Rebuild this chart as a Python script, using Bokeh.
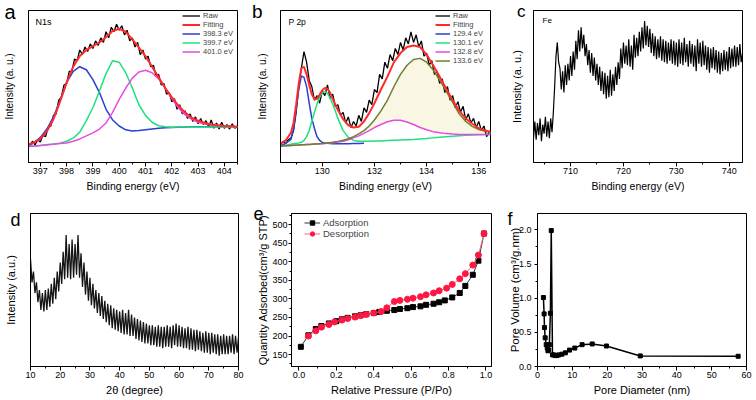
from bokeh.plotting import figure
from bokeh.layouts import row, column
from bokeh.models import (Range1d, FixedTicker, Label, Legend, LegendItem, LinearAxis,
                          PrintfTickFormatter, AllLabels)
from bokeh.embed import file_html
from bokeh.resources import INLINE

FONT = "Liberation Sans"

# ---------------- (a) N1s ----------------
a_raw_x = [396.6, 396.7, 396.8, 396.9, 397.0, 397.1, 397.2, 397.3, 397.4, 397.5,
           397.6, 397.7, 397.8, 397.9, 398.0, 398.1, 398.2, 398.3, 398.4, 398.5,
           398.6, 398.7, 398.8, 398.9, 399.0, 399.1, 399.2, 399.3, 399.4, 399.5,
           399.6, 399.7, 399.8, 399.9, 400.0, 400.1, 400.2, 400.3, 400.4, 400.5,
           400.6, 400.7, 400.8, 400.9, 401.0, 401.1, 401.2, 401.3, 401.4, 401.5,
           401.6, 401.7, 401.8, 401.9, 402.0, 402.1, 402.2, 402.3, 402.4, 402.5,
           402.6, 402.7, 402.8, 402.9, 403.0, 403.1, 403.2, 403.3, 403.4, 403.5,
           403.6, 403.7, 403.8, 403.9, 404.0, 404.1, 404.2, 404.3, 404.4, 404.5]
a_raw_y = [11, 14, 11.5, 15, 13.5, 18, 17, 23, 24, 31,
           32, 41, 43, 51, 52, 60, 60, 68, 67, 74,
           71, 76, 73, 78, 75, 80, 77, 82, 79, 86,
           82, 89, 86, 91, 87, 90, 84, 87, 80, 82,
           76, 79, 71, 74, 68, 70, 63, 64, 57, 58,
           51, 52, 45, 46, 40, 42, 35, 38, 32, 34,
           29, 32, 27, 30, 25.5, 29, 25, 27.5, 23.5, 28,
           22.5, 26, 22, 26.5, 22.5, 25, 22, 25.5, 22.5, 24]
a_fit_x = [396.55, 396.75, 397.0, 397.25, 397.5, 397.75, 398.0, 398.25, 398.5, 398.75,
           399.0, 399.25, 399.5, 399.75, 400.0, 400.25, 400.5, 400.75, 401.0, 401.25,
           401.5, 401.75, 402.0, 402.25, 402.5, 402.75, 403.0, 403.25, 403.5, 403.75,
           404.0, 404.25, 404.5]
a_fit = [12, 13, 15.5, 20.5, 28.5, 40, 52.5, 63, 70, 74,
         76.5, 79, 82.5, 86.5, 88, 86, 81, 75.5, 70, 63,
         56, 49, 43, 37.5, 33, 29.5, 27.5, 26, 25, 24.5,
         24, 23.8, 23.6]
a_p1 = [11, 13, 16.5, 22, 30, 41, 52.5, 60, 63, 61,
        54.5, 46, 35, 28, 24, 21.5, 20.7, 21, 21.5, 22,
        22.5, 22.8, 23, 23.2, 23.4, 23.5, 23.5, 23.5, 23.5, 23.5,
        23.5, 23.5, 23.5]
a_p2 = [10.5, 10.8, 11.2, 11.7, 12.2, 12.7, 14, 16, 20, 27.5,
        36, 47, 58.5, 67, 66, 59, 49, 38, 31, 26.5,
        24.2, 23.5, 23.2, 23.3, 23.3, 23.3, 23.3, 23.3, 23.3, 23.3,
        23.3, 23.3, 23.3]
a_p3 = [10.5, 10.8, 11.2, 11.6, 12, 12.5, 12.8, 14, 15.5, 17.5,
        19.5, 22, 26, 33, 41.5, 49, 55.5, 59.5, 60.7, 59,
        55, 49, 42, 36, 31.5, 28.5, 26.5, 25.3, 24.7, 24.2,
        24, 23.8, 23.6]
a_labels = ["Raw", "Fitting", "398.3 eV", "399.7 eV", "401.0 eV"]
a_ticks = [397, 398, 399, 400, 401, 402, 403, 404]

# ---------------- (b) P 2p ----------------
b_raw_x = [128.4, 128.5, 128.6, 128.7, 128.8, 128.9, 129.0, 129.1, 129.2, 129.3,
           129.4, 129.5, 129.6, 129.7, 129.8, 129.9, 130.0, 130.1, 130.2, 130.3,
           130.4, 130.5, 130.6, 130.7, 130.8, 130.9, 131.0, 131.1, 131.2, 131.3,
           131.4, 131.5, 131.6, 131.7, 131.8, 131.9, 132.0, 132.1, 132.2, 132.3,
           132.4, 132.5, 132.6, 132.7, 132.8, 132.9, 133.0, 133.1, 133.2, 133.3,
           133.4, 133.5, 133.6, 133.7, 133.8, 133.9, 134.0, 134.1, 134.2, 134.3,
           134.4, 134.5, 134.6, 134.7, 134.8, 134.9, 135.0, 135.1, 135.2, 135.3,
           135.4, 135.5, 135.6, 135.7, 135.8, 135.9, 136.0, 136.1, 136.2, 136.3,
           136.4]
b_raw_y = [12, 13.5, 12.5, 15, 16, 21, 33, 50, 62, 73,
           66, 54, 50, 41, 44, 39, 47, 44, 51, 42,
           45, 37, 38, 31, 33, 26, 30, 23, 27, 24,
           31, 27, 36, 33, 41, 38, 48, 46, 58, 55,
           66, 62, 71, 67, 75, 71, 79, 74, 82, 78,
           86, 79, 84, 76, 80, 70, 72, 64, 67, 58,
           60, 52, 55, 46, 50, 41, 44, 36, 40, 33,
           37, 28, 32, 26, 29, 23, 27, 21, 24, 17,
           20]
b_fit_x = [128.4, 128.6, 128.8, 128.9, 129.0, 129.1, 129.2, 129.3, 129.4, 129.5,
           129.6, 129.7, 129.8, 129.9, 130.0, 130.1, 130.2, 130.3, 130.4, 130.5,
           130.6, 130.8, 131.0, 131.2, 131.4, 131.6, 131.8, 132.0, 132.25, 132.5,
           132.75, 133.0, 133.25, 133.5, 133.75, 134.0, 134.25, 134.5, 134.75, 135.0,
           135.25, 135.5, 135.75, 136.0, 136.25, 136.45]
b_fit = [12.6, 14.5, 19.6, 26, 38, 52, 62, 63, 58, 51,
         45, 41.5, 42, 44.5, 47.5, 49, 48.5, 46, 42, 38,
         34.5, 28.5, 24.5, 23, 23.5, 27, 32.5, 39, 48, 56.5,
         66, 72, 76, 77, 76, 71, 64, 56.5, 48.5, 41,
         34, 29, 25.5, 22.5, 21, 20.3]
b_p1 = [11, 12.5, 15.2, 22, 35, 48, 57, 56, 50, 39,
        29, 22.5, 17, 14.5, 13.2, 12.8, 12.6, 12.5, 12.4, 12.4,
        12.4, 12.4, 12.4, 12.5, 12.5, 12.6]
b_p2 = [10.9, 11.4, 12, 12.3, 12.6, 12.9, 13.3, 14.5, 17, 21,
        27, 33, 38.5, 43, 46, 46.7, 45.5, 42.5, 38.5, 34,
        29, 21, 16.5, 14.5, 14, 14, 14, 14.1, 14.2, 14.4,
        14.6, 14.8, 15, 15.2, 15.5, 15.8, 16.2, 16.6, 17, 17.3,
        17.6, 17.9, 18.1, 18.3, 18.4, 18.5]
b_p3 = [10.9, 11, 11.2, 11.3, 11.4, 11.5, 11.6, 11.7, 11.8, 11.9,
        12, 12.1, 12.2, 12.3, 12.4, 12.5, 12.6, 12.8, 13, 13.2,
        13.4, 14, 15, 16.2, 17.5, 19.2, 21, 23, 25, 26.8,
        27.8, 27.8, 26.6, 25, 23, 21.5, 20.3, 19.5, 19, 18.7,
        18.5, 18.5, 18.5, 18.5, 18.5, 18.5]
b_p4 = [10.9, 11, 11.2, 11.3, 11.4, 11.5, 11.6, 11.7, 11.8, 11.9,
        12, 12.1, 12.2, 12.4, 12.5, 12.7, 12.9, 13.1, 13.3, 13.6,
        13.9, 14.6, 15.6, 17, 18.8, 21, 24, 28, 34, 41,
        50, 58, 64, 67.8, 68.5, 66, 61, 54.3, 47, 39.5,
        32, 27, 23.8, 21.7, 20.5, 20]
b_labels = ["Raw", "Fitting", "129.4 eV", "130.1 eV", "132.8 eV", "133.6 eV"]
b_ticks = [130, 132, 134, 136]

# ---------------- (c) Fe ----------------
c_x = [703.0, 703.25, 703.5, 703.75, 704.0, 704.25, 704.5, 704.75,
       705.0, 705.25, 705.5, 705.75, 706.0, 706.25, 706.5, 706.75,
       707.0, 707.25, 707.5, 707.75, 708.0, 708.25, 708.5, 708.75,
       709.0, 709.25, 709.5, 709.75, 710.0, 710.25, 710.5, 710.75,
       711.0, 711.25, 711.5, 711.75, 712.0, 712.25, 712.5, 712.75,
       713.0, 713.25, 713.5, 713.75, 714.0, 714.25, 714.5, 714.75,
       715.0, 715.25, 715.5, 715.75, 716.0, 716.25, 716.5, 716.75,
       717.0, 717.25, 717.5, 717.75, 718.0, 718.25, 718.5, 718.75,
       719.0, 719.25, 719.5, 719.75, 720.0, 720.25, 720.5, 720.75,
       721.0, 721.25, 721.5, 721.75, 722.0, 722.25, 722.5, 722.75,
       723.0, 723.25, 723.5, 723.75, 724.0, 724.25, 724.5, 724.75,
       725.0, 725.25, 725.5, 725.75, 726.0, 726.25, 726.5, 726.75,
       727.0, 727.25, 727.5, 727.75, 728.0, 728.25, 728.5, 728.75,
       729.0, 729.25, 729.5, 729.75, 730.0, 730.25, 730.5, 730.75,
       731.0, 731.25, 731.5, 731.75, 732.0, 732.25, 732.5, 732.75,
       733.0, 733.25, 733.5, 733.75, 734.0, 734.25, 734.5, 734.75,
       735.0, 735.25, 735.5, 735.75, 736.0, 736.25, 736.5, 736.75,
       737.0, 737.25, 737.5, 737.75, 738.0, 738.25, 738.5, 738.75,
       739.0, 739.25, 739.5, 739.75, 740.0, 740.25, 740.5, 740.75,
       741.0, 741.25, 741.5, 741.75, 742.0, 742.25, 742.5]
c_y = [16, 27, 15, 26, 18, 29, 14, 25,
       19, 30, 17, 27, 16, 29, 20, 33,
       50, 70, 79, 66, 62, 48, 60, 46,
       64, 51, 65, 54, 70, 57, 73, 61,
       80, 68, 87, 73, 89, 75, 84, 70,
       78, 64, 74, 59, 72, 57, 69, 54,
       65, 51, 63, 47, 60, 45, 59, 42,
       57, 43, 61, 44, 58, 47, 63, 51,
       66, 55, 75, 62, 79, 65, 77, 64,
       81, 63, 77, 61, 84, 69, 82, 70,
       86, 73, 89, 75, 93, 77, 90, 76,
       88, 72, 85, 70, 83, 68, 81, 69,
       83, 67, 81, 66, 80, 65, 79, 67,
       81, 65, 80, 64, 79, 63, 81, 65,
       79, 64, 82, 66, 78, 63, 80, 65,
       78, 63, 77, 60, 81, 65, 79, 63,
       80, 64, 77, 61, 76, 59, 75, 62,
       76, 61, 74, 59, 73, 58, 72, 60,
       74, 61, 73, 60, 76, 62, 75, 63,
       77, 63, 76, 64, 78, 66, 72]
c_ticks = [710, 720, 730, 740]

# ---------------- (d) XRD ----------------
d_x = [10.0, 10.5, 11.0, 11.5, 12.0, 12.5, 13.0, 13.5, 14.0, 14.5,
       15.0, 15.5, 16.0, 16.5, 17.0, 17.5, 18.0, 18.5, 19.0, 19.5,
       20.0, 20.5, 21.0, 21.5, 22.0, 22.5, 23.0, 23.5, 24.0, 24.5,
       25.0, 25.5, 26.0, 26.5, 27.0, 27.5, 28.0, 28.5, 29.0, 29.5,
       30.0, 30.5, 31.0, 31.5, 32.0, 32.5, 33.0, 33.5, 34.0, 34.5,
       35.0, 35.5, 36.0, 36.5, 37.0, 37.5, 38.0, 38.5, 39.0, 39.5,
       40.0, 40.5, 41.0, 41.5, 42.0, 42.5, 43.0, 43.5, 44.0, 44.5,
       45.0, 45.5, 46.0, 46.5, 47.0, 47.5, 48.0, 48.5, 49.0, 49.5,
       50.0, 50.5, 51.0, 51.5, 52.0, 52.5, 53.0, 53.5, 54.0, 54.5,
       55.0, 55.5, 56.0, 56.5, 57.0, 57.5, 58.0, 58.5, 59.0, 59.5,
       60.0, 60.5, 61.0, 61.5, 62.0, 62.5, 63.0, 63.5, 64.0, 64.5,
       65.0, 65.5, 66.0, 66.5, 67.0, 67.5, 68.0, 68.5, 69.0, 69.5,
       70.0, 70.5, 71.0, 71.5, 72.0, 72.5, 73.0, 73.5, 74.0, 74.5,
       75.0, 75.5, 76.0, 76.5, 77.0, 77.5, 78.0, 78.5, 79.0, 79.5,
       80.0]
d_y = [70, 55, 62, 48, 55, 42, 50, 37, 48, 36,
       50, 37, 51, 39, 54, 41, 58, 44, 62, 49,
       68, 54, 75, 57, 86, 58, 80, 57, 83, 58,
       80, 60, 86, 58, 74, 52, 68, 47, 62, 43,
       58, 40, 54, 38, 50, 35, 48, 33, 46, 31,
       43, 29, 41, 27, 40, 25, 38, 24, 37, 23,
       36, 22, 37, 21, 35, 21, 37, 20, 34, 20,
       32, 18, 31, 17, 30, 16, 29, 15, 28, 15,
       27, 14, 27, 14, 26, 13, 27, 13, 26, 12,
       26, 13, 27, 13, 26, 12, 27, 14, 28, 13,
       27, 13, 26, 12, 25, 12, 26, 11, 25, 11,
       24, 10, 24, 11, 23, 10, 22, 9, 23, 9,
       22, 8, 22, 9, 21, 8, 21, 7, 20, 8,
       21, 8, 20, 8, 20, 9, 21, 8, 20, 9,
       19]
d_ticks = [10, 20, 30, 40, 50, 60, 70, 80]

# ---------------- (e) BET isotherm ----------------
e_ads_x = [0.01, 0.05, 0.09, 0.12, 0.16, 0.20, 0.23, 0.26, 0.30, 0.33,
           0.36, 0.40, 0.43, 0.47, 0.51, 0.54, 0.58, 0.61, 0.65, 0.68,
           0.72, 0.75, 0.78, 0.82, 0.86, 0.89, 0.93, 0.96, 0.99]
e_ads_y = [171, 202, 219, 227, 234, 240, 245, 249, 253, 256,
           259, 262, 265, 268, 270, 273, 275, 278, 280, 284,
           287, 291, 296, 304, 316, 335, 365, 403, 476]
e_des_x = [0.99, 0.96, 0.93, 0.89, 0.86, 0.82, 0.79, 0.75, 0.72, 0.68,
           0.65, 0.61, 0.58, 0.54, 0.51, 0.47, 0.44, 0.40, 0.36, 0.33,
           0.30, 0.26, 0.23, 0.19, 0.16, 0.12, 0.09, 0.05]
e_des_y = [476, 418, 391, 368, 354, 339, 329, 322, 316, 311,
           306, 302, 299, 296, 293, 276, 266, 262, 258, 255,
           251, 247, 243, 238, 231, 224, 214, 200]
e_xticks = [0.0, 0.2, 0.4, 0.6, 0.8, 1.0]
e_yticks = [150.0, 200.0, 250.0, 300.0, 350.0, 400.0, 450.0, 500.0]

# ---------------- (f) pore size distribution ----------------
f_x = [1.7, 1.9, 2.0, 2.2, 2.5, 2.8, 3.0, 3.2, 3.4, 3.7,
       3.95, 4.3, 4.7, 5.1, 5.6, 6.1, 7.0, 8.0, 9.2, 10.7,
       12.8, 15.7, 19.8, 29.5, 57.6]
f_y = [1.01, 0.77, 0.57, 0.42, 0.32, 0.27, 0.23, 0.24, 0.32, 0.78,
       1.99, 0.17, 0.17, 0.16, 0.16, 0.17, 0.18, 0.20, 0.24, 0.27,
       0.32, 0.33, 0.30, 0.155, 0.15]
f_xticks = [0, 10, 20, 30, 40, 50, 60]
f_yticks = [0.0, 0.5, 1.0, 1.5, 2.0]

for xs, ys in [(a_raw_x, a_raw_y), (b_raw_x, b_raw_y), (c_x, c_y), (d_x, d_y),
               (e_ads_x, e_ads_y), (e_des_x, e_des_y), (f_x, f_y)]:
    assert len(xs) == len(ys), (len(xs), len(ys))
for s in (a_fit, a_p1, a_p2, a_p3):
    assert len(s) == len(a_fit_x)
for s in (b_fit, b_p2, b_p3, b_p4):
    assert len(s) == len(b_fit_x)

BLUE = "#2b3fd0"
GREEN = "#1fe07f"
MAGENTA = "#e64ae2"
RED = "#ff2b2b"
OLIVE = "#6f7f2c"


def base_fig(w, h, xr, yr, bl, br, bt, bb):
    p = figure(width=w, height=h, x_range=Range1d(*xr), y_range=Range1d(*yr),
               output_backend="svg", toolbar_location=None,
               min_border_left=bl, min_border_right=br,
               min_border_top=bt, min_border_bottom=bb)
    p.grid.visible = False
    p.outline_line_color = "black"
    p.outline_line_alpha = 1.0
    p.outline_line_width = 1
    p.background_fill_color = "white"
    p.border_fill_color = "white"
    for ax in (p.xaxis[0], p.yaxis[0]):
        ax.axis_line_color = "black"
        ax.major_tick_line_color = "black"
        ax.minor_tick_line_color = "black"
        ax.major_tick_in = 0
        ax.major_tick_out = 4
        ax.minor_tick_in = 0
        ax.minor_tick_out = 2
        ax.major_label_text_font = FONT
        ax.major_label_text_font_size = "9px"
        ax.major_label_text_color = "black"
        ax.major_label_standoff = 1
        ax.major_label_policy = AllLabels()
        ax.axis_label_text_font = FONT
        ax.axis_label_text_font_style = "normal"
        ax.axis_label_text_color = "black"
        ax.axis_label_text_font_size = "10.5px"
        ax.axis_label_standoff = 3
    return p


def letter_y(p, letter, tick, size, standoff, label, label_size, label_standoff):
    """Primary y axis without numeric ticks: panel letter as its one tick label."""
    ax = p.yaxis[0]
    ax.ticker = FixedTicker(ticks=[tick])
    ax.formatter = PrintfTickFormatter(format=letter)
    ax.major_label_text_font_size = size
    ax.major_tick_out = 0
    ax.minor_tick_out = 0
    ax.major_tick_line_color = None
    ax.minor_tick_line_color = None
    ax.major_label_standoff = standoff
    ax.axis_label = label
    ax.axis_label_text_font_size = label_size
    ax.axis_label_standoff = label_standoff


def letter_axis(p, letter, tick, size, standoff):
    """Extra outer left axis holding only the panel letter."""
    ax = LinearAxis(ticker=FixedTicker(ticks=[tick]),
                    formatter=PrintfTickFormatter(format=letter),
                    axis_line_color=None, major_tick_line_color=None,
                    minor_tick_line_color=None, major_tick_out=0, minor_tick_out=0,
                    major_tick_in=0, minor_tick_in=0, major_label_standoff=standoff,
                    major_label_text_font=FONT, major_label_text_font_size=size,
                    major_label_text_color="black", major_label_policy=AllLabels())
    p.add_layout(ax, "left")


def add_text(p, x, y, text, size, dx=0, dy=0):
    p.add_layout(Label(x=x, y=y, x_offset=dx, y_offset=dy,
                       text=text, text_font=FONT, text_font_size=size, text_color="black",
                       text_baseline="alphabetic", text_align="left"))


def add_legend(p, items, loc, fsize, lh, gw):
    lg = Legend(items=items, location=loc, background_fill_alpha=0,
                border_line_color=None, label_text_font=FONT,
                label_text_font_size=fsize, label_height=lh, glyph_height=lh,
                glyph_width=gw, spacing=0, padding=0, margin=0, label_standoff=3)
    p.add_layout(lg)


# ---- a ----  frame: x 28..237, y 10..163
ax_r = (396.55, 404.5)
pa = base_fig(250, 196, ax_r, (0, 100), 28, 13, 10, 33)
pa.xaxis.ticker = FixedTicker(ticks=a_ticks, minor_ticks=[396.5 + 0.5 * i for i in range(17)])
pa.xaxis.axis_label = "Binding energy (eV)"
letter_y(pa, "a", 99.8, "20px", 13, "Intensity (a. u.)", "10px", -14)
ra0 = pa.line(a_raw_x, a_raw_y, line_color="black", line_width=1.3)
ra2 = pa.line(a_fit_x, a_p1, line_color=BLUE, line_width=1.5)
ra3 = pa.line(a_fit_x, a_p2, line_color=GREEN, line_width=1.5)
ra4 = pa.line(a_fit_x, a_p3, line_color=MAGENTA, line_width=1.5)
ra1 = pa.line(a_fit_x, a_fit, line_color=RED, line_width=2)
add_legend(pa, [LegendItem(label=t, renderers=[r]) for t, r in
                zip(a_labels, [ra0, ra1, ra2, ra3, ra4])], (154, 106), "7.5px", 9, 18)
add_text(pa, ax_r[0], 100, "N1s", "9px", dx=7, dy=-11)

# ---- b ----  frame: x 280..490, y 10..163
bx_r = (128.4, 136.45)
pb = base_fig(250, 196, bx_r, (0, 100), 30, 10, 10, 33)
pb.xaxis.ticker = FixedTicker(ticks=b_ticks, minor_ticks=[129, 131, 133, 135])
pb.xaxis.axis_label = "Binding energy (eV)"
letter_y(pb, "b", 99.8, "19px", 18, "Intensity (a. u.)", "10px", -19)
pb.varea(x=b_fit_x[24:], y1=b_p3[24:], y2=b_p4[24:], fill_color="#f8f5dc", fill_alpha=0.8)
rb0 = pb.line(b_raw_x, b_raw_y, line_color="black", line_width=1.3)
rb2 = pb.line(b_fit_x[:len(b_p1)], b_p1, line_color=BLUE, line_width=1.5)
rb3 = pb.line(b_fit_x, b_p2, line_color=GREEN, line_width=1.5)
rb4 = pb.line(b_fit_x, b_p3, line_color=MAGENTA, line_width=1.5)
rb5 = pb.line(b_fit_x, b_p4, line_color=OLIVE, line_width=1.5)
rb1 = pb.line(b_fit_x, b_fit, line_color=RED, line_width=2)
add_legend(pb, [LegendItem(label=t, renderers=[r]) for t, r in
                zip(b_labels, [rb0, rb1, rb2, rb3, rb4, rb5])], (155, 97), "7.5px", 9, 15)
add_text(pb, bx_r[0], 100, "P 2p", "8.5px", dx=8, dy=-11)

# ---- c ----  frame: x 533..742, y 10..162
cx_r = (703.0, 742.5)
pc = base_fig(256, 196, cx_r, (0, 100), 33, 14, 10, 34)
pc.xaxis.ticker = FixedTicker(ticks=c_ticks, minor_ticks=[705, 715, 725, 735])
pc.xaxis.axis_label = "Binding energy (eV)"
letter_y(pc, "c", 99.3, "17px", 8, "Intensity (a. u.)", "11px", -9)
pc.line(c_x, c_y, line_color="black", line_width=1.2)
add_text(pc, cx_r[0], 100, "Fe", "8px", dx=9, dy=-10)

# ---- d ----  frame: x 30..238, y 212..366
dx_r = (10, 80)
pd_ = base_fig(250, 204, dx_r, (0, 100), 30, 12, 16, 34)
pd_.xaxis.ticker = FixedTicker(ticks=d_ticks, minor_ticks=[15, 25, 35, 45, 55, 65, 75])
pd_.xaxis.axis_label = "2θ (degree)"
pd_.xaxis.axis_label_text_font_size = "11px"
letter_y(pd_, "d", 95.6, "18px", 10, "Intensity (a.u.)", "11px", -10)
pd_.line(d_x, d_y, line_color="#151515", line_width=1.3)

# ---- e ----  frame: x 287..491, y 207..368
ex_r = (-0.04, 1.03)
ey_r = (118, 530)
pe = base_fig(250, 204, ex_r, ey_r, 37, 9, 11, 32)
pe.xaxis.ticker = FixedTicker(ticks=e_xticks, minor_ticks=[0.1, 0.3, 0.5, 0.7, 0.9])
pe.xaxis.formatter = PrintfTickFormatter(format="%.1f")
pe.yaxis.ticker = FixedTicker(ticks=e_yticks, minor_ticks=[125, 175, 225, 275, 325, 375, 425, 475, 525])
pe.yaxis.formatter = PrintfTickFormatter(format="%.0f")
pe.xaxis.axis_label = "Relative Pressure (P/Po)"
pe.yaxis.axis_label = "Quantity Adsorbed(cm³/g STP)"
pe.xaxis.axis_label_text_font_size = "11px"
pe.yaxis.axis_label_text_font_size = "11px"
pe.yaxis.major_tick_out = 3
pe.yaxis.major_label_standoff = 1
pe.yaxis.axis_label_standoff = 0
letter_axis(pe, "e", 529.5, "18px", -9)
re1 = pe.line(e_ads_x, e_ads_y, line_color="#333333", line_width=1)
re2 = pe.scatter(e_ads_x, e_ads_y, marker="square", size=5, fill_color="black", line_color="black")
re3 = pe.line(e_des_x, e_des_y, line_color="#f2668a", line_width=1)
re4 = pe.scatter(e_des_x, e_des_y, marker="circle", size=6, fill_color="#ff1744", line_color="#ff1744")
add_legend(pe, [LegendItem(label="Adsorption", renderers=[re1, re2]),
                LegendItem(label="Desorption", renderers=[re3, re4])], (13, 127), "9.5px", 11, 16)

# ---- f ----  frame: x 537..746, y 213..366
fx_r = (0, 60)
fy_r = (0, 2.24)
pf = base_fig(256, 204, fx_r, fy_r, 37, 10, 17, 34)
pf.xaxis.ticker = FixedTicker(ticks=f_xticks, minor_ticks=[5, 15, 25, 35, 45, 55])
pf.yaxis.ticker = FixedTicker(ticks=f_yticks, minor_ticks=[0.25, 0.75, 1.25, 1.75])
pf.yaxis.formatter = PrintfTickFormatter(format="%.1f")
pf.xaxis.axis_label = "Pore Diameter (nm)"
pf.yaxis.axis_label = "Pore Volume (cm³/g.nm)"
pf.xaxis.axis_label_text_font_size = "11px"
pf.yaxis.axis_label_text_font_size = "11.5px"
pf.yaxis.major_tick_out = 3
pf.yaxis.major_label_standoff = 3
pf.yaxis.axis_label_standoff = -5
letter_axis(pf, "f", 2.157, "18px", -7)
pf.line(f_x, f_y, line_color="black", line_width=1.5)
pf.scatter(f_x, f_y, marker="square", size=4, fill_color="black", line_color="black")

lay = column(row(pa, pb, pc), row(pd_, pe, pf))
open("out.html", "w").write(file_html(lay, INLINE))
